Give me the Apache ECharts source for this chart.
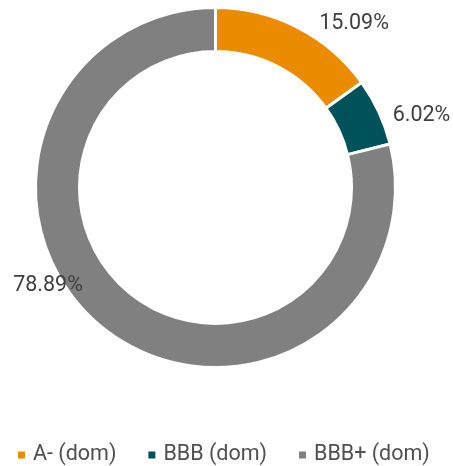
<!DOCTYPE html>
<html>
<head>
<meta charset="utf-8">
<script src="https://cdn.jsdelivr.net/npm/echarts@6/dist/echarts.min.js"></script>
<style>html,body{margin:0;padding:0;background:#fff}#c{width:453px;height:466px}</style>
</head>
<body>
<div id="c"></div>
<script>
const categories = ["A- (dom)", "BBB (dom)", "BBB+ (dom)"];
const values = [15.09, 6.02, 78.89];
const colors = ["#EB8C00", "#00525A", "#808080"];

// label anchor points (centre of each data label), in px
const labelAnchors = [[354, 23.5], [421.5, 115.5], [48, 285.5]];

const chart = echarts.init(document.getElementById('c'));
chart.setOption({
  animation: false,
  color: colors,
  legend: {
    top: 439,
    left: 11,
    icon: 'rect',
    itemWidth: 9,
    itemHeight: 9,
    itemGap: 30,
    textStyle: { fontFamily: 'Roboto', fontSize: 21.5, lineHeight: 22, color: '#505050', padding: [0, 0, 0, 2] },
    data: categories
  },
  series: [{
    type: 'pie',
    center: [215.5, 187.5],
    radius: [136, 180],
    startAngle: 90,
    clockwise: true,
    itemStyle: { borderColor: '#fff', borderWidth: 3 },
    label: {
      show: true,
      position: 'inside',
      overflow: 'none',
      formatter: p => p.value.toFixed(2) + '%',
      fontFamily: 'Roboto',
      fontSize: 21.5,
      color: '#404040'
    },
    labelLine: { show: false },
    labelLayout: function (params) {
      const a = labelAnchors[params.dataIndex];
      return { x: a[0], y: a[1], align: 'center', verticalAlign: 'middle' };
    },
    emphasis: { disabled: true },
    data: categories.map((n, i) => ({ name: n, value: values[i] }))
  }]
});
</script>
</body>
</html>
